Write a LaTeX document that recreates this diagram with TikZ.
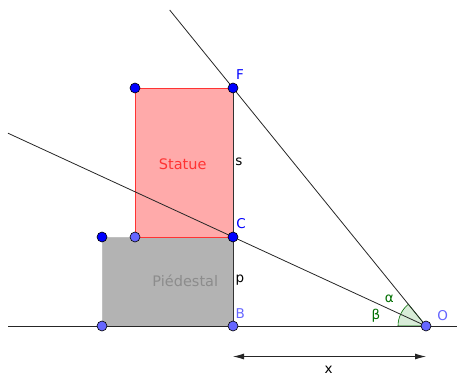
\documentclass[tikz,border=0pt]{standalone}
\usepackage{fontspec}
\setmainfont{DejaVu Sans}
\usetikzlibrary{arrows.meta}
\definecolor{ptblue}{RGB}{0,0,255}
\definecolor{ptlight}{RGB}{102,102,255}
\definecolor{statfill}{RGB}{255,170,170}
\definecolor{statline}{RGB}{255,51,51}
\definecolor{pedfill}{RGB}{179,179,179}
\definecolor{pedline}{RGB}{192,192,192}
\definecolor{angfill}{RGB}{216,236,216}
\definecolor{anggreen}{RGB}{0,110,0}
\begin{document}
\begin{tikzpicture}[x=1pt,y=1pt,
  pt/.style={circle,draw=black,line width=0.6pt,inner sep=0pt,minimum size=10pt},
  darkpt/.style={pt,fill=ptblue},
  lightpt/.style={pt,fill=ptlight},
  lbl/.style={inner sep=0pt,font=\fontsize{13.5}{15}\selectfont},
  thinline/.style={line width=0.8pt,black!85}]
\useasboundingbox (0,0) rectangle (457,376);
% coordinates
\coordinate (O) at (426,50);
\coordinate (B) at (233,50);
\coordinate (C) at (233,139);
\coordinate (F) at (233,288);
\coordinate (ST) at (135,288);
\coordinate (SB) at (135,139);
\coordinate (PT) at (102,139);
\coordinate (PB) at (102,50);
\coordinate (GL) at (8,50);
\coordinate (GR) at (457,50);
\coordinate (LF) at (169.7,366);
\coordinate (LC) at (8,242.8);
\coordinate (XL) at (233,19.5);
\coordinate (XR) at (426,19.5);
% pedestal
\fill[pedfill] (PB) rectangle (C);
\draw[pedline,line width=0.9pt] (B) -- (PB) -- (PT) -- (C);
% statue
\fill[statfill] (SB) rectangle (F);
\draw[statline,line width=0.9pt] (C) -- (SB) -- (ST) -- (F);
% angle sector
\filldraw[fill=angfill,draw=anggreen,line width=0.6pt] (O) -- ++(180:28) arc[start angle=180,end angle=129.04,radius=28] -- cycle;
% lines
\draw[thinline] (GL) -- (GR);
\draw[thinline] (LF) -- (O);
\draw[thinline] (LC) -- (O);
\draw[line width=0.9pt,black!80] (B) -- (F);
% arrow
\draw[thinline,{Latex[length=11pt,width=6pt]}-{Latex[length=11pt,width=6pt]}] (XL) -- (XR);
% points
\node[darkpt] (nST) at (ST) {};
\node[darkpt] (nF) at (F) {};
\node[darkpt] (nPT) at (PT) {};
\node[lightpt] (nSB) at (SB) {};
\node[darkpt] (nC) at (C) {};
\node[lightpt] (nPB) at (PB) {};
\node[lightpt] (nB) at (B) {};
\node[lightpt] (nO) at (O) {};
% labels
\node[lbl,text=ptblue] (tF) at (240,301) {F};
\node[lbl,text=ptblue] (tC) at (241,152.7) {C};
\node[lbl,text=ptlight] (tB) at (240.3,62.7) {B};
\node[lbl,text=ptlight] (tO) at (442.7,60) {O};
\node[lbl] (ts) at (239,214.3) {s};
\node[lbl] (tp) at (240,95.5) {p};
\node[lbl] (tx) at (328.7,6.5) {x};
\node[lbl,text=anggreen] (ta) at (389.3,77) {α};
\node[lbl,text=anggreen] (tb) at (376,60) {β};
\node[lbl,text=statline,font=\fontsize{14.5}{16}\selectfont] (tS) at (182.7,212) {Statue};
\node[lbl,text=black!45,font=\fontsize{14.5}{16}\selectfont] (tP) at (185.3,95.3) {Piédestal};
\end{tikzpicture}
\end{document}
